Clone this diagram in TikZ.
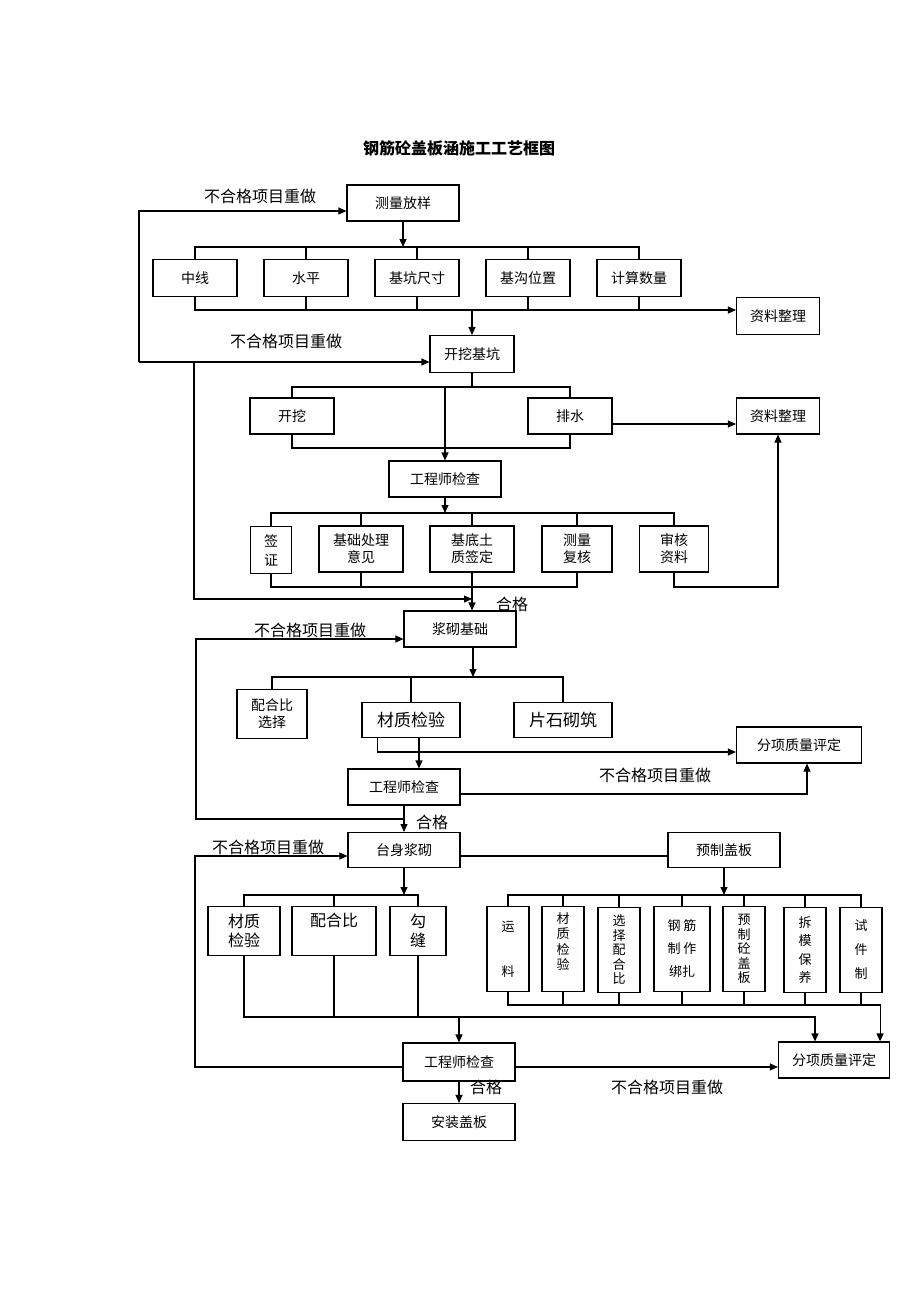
\documentclass[tikz,border=0pt]{standalone}
\usepackage{fontspec}
\setmainfont{Noto Sans CJK SC}
\usetikzlibrary{arrows.meta,positioning}

\begin{document}
\begin{tikzpicture}[
    x=1pt, y=-1pt,
    box/.style={rectangle, draw, line width=1.1pt, minimum width=112pt, minimum height=36pt, inner sep=1pt, align=center, font=\fontsize{14}{17}\selectfont},
    rbox/.style={box, minimum width=84pt, minimum height=37pt},
    tbox/.style={box, minimum height=46pt},
    sbox/.style={box, minimum width=42pt, minimum height=85pt, font=\fontsize{13}{15}\selectfont},
    lbl/.style={font=\fontsize{16}{19}\selectfont},
    conn/.style={line width=1.1pt},
    arrow/.style={conn, -{Triangle[length=8pt,width=7pt]}}
]
    \useasboundingbox (0,0) rectangle (920,1302);

    \node[font=\fontsize{16}{19}\selectfont\bfseries] (title) at (459,148) {钢筋砼盖板涵施工工艺框图};

    % bus lines and loop corners
    \coordinate (b1) at (0,247);
    \coordinate (b2) at (0,310);
    \coordinate (b3) at (0,387);
    \coordinate (b4) at (0,448);
    \coordinate (b5) at (0,513);
    \coordinate (b6) at (0,587);
    \coordinate (b7) at (0,677);
    \coordinate (b8) at (0,895);
    \coordinate (b9) at (0,1017);
    \coordinate (b10) at (0,1005);
    \coordinate (lp1) at (139,362);
    \coordinate (lp2) at (194,599);
    \coordinate (lp3) at (196,819);
    \coordinate (lp4) at (195,0);

    % section 1
    \node[box] (clfy) at (403,203) {测量放样};
    \node[rbox] (zx) at (195,278) {中线};
    \node[rbox] (sp) at (306,278) {水平};
    \node[rbox] (jkcc) at (417,278) {基坑尺寸};
    \node[rbox] (jgwz) at (528,278) {基沟位置};
    \node[rbox] (jssl) at (639,278) {计算数量};
    \node[rbox, minimum width=83pt] (zlzl1) at (778,316) {资料整理};
    \node[rbox] (kwjk) at (472,354) {开挖基坑};
    \node[lbl] (redo1) at (260,196) {不合格项目重做};
    \node[lbl] (redo2) at (286,341) {不合格项目重做};

    \draw[arrow] (clfy.south) -- (clfy.south |- b1);
    \draw[conn] (zx.north) |- (jssl.north |- b1) -- (jssl.north);
    \foreach \n in {sp,jkcc,jgwz}
        \draw[conn] (\n.north) -- (\n.north |- b1);
    \draw[arrow] (zx.south) |- (zlzl1.west |- b2);
    \foreach \n in {sp,jkcc,jgwz,jssl}
        \draw[conn] (\n.south) -- (\n.south |- b2);
    \draw[arrow] (kwjk.north |- b2) -- (kwjk.north);
    \draw[arrow] (lp1) |- ([yshift=-8pt]clfy.west);
    \draw[arrow] (lp1) -- (kwjk.west |- lp1);

    % section 2
    \node[rbox, minimum height=36pt] (kw) at (292,416) {开挖};
    \node[rbox, minimum height=36pt] (ps) at (570,416) {排水};
    \node[rbox, minimum width=83pt, minimum height=36pt] (zlzl2) at (778,416) {资料整理};
    \node[box] (gcs1) at (445,479) {工程师检查};
    \node[tbox, minimum width=41pt, minimum height=47pt] (qz) at (271,550) {签\\[2pt]证};
    \node[tbox, minimum width=84pt] (jccl) at (361,549) {基础处理\\意见};
    \node[tbox, minimum width=84pt] (jdtz) at (472,549) {基底土\\质签定};
    \node[tbox, minimum width=70pt] (clfh) at (577,549) {测量\\复核};
    \node[tbox, minimum width=69pt] (shzl) at (674,549) {审核\\资料};

    \draw[conn] (kwjk.south) -- (kwjk.south |- b3);
    \draw[conn] (kw.north) |- (ps.north |- b3) -- (ps.north);
    \draw[arrow] (gcs1.north |- b3) -- (gcs1.north);
    \draw[conn] (kw.south) |- (ps.south |- b4) -- (ps.south);
    \draw[arrow] ([yshift=-8pt]ps.east) -- ([yshift=-8pt]zlzl2.west);
    \draw[arrow] (gcs1.south) -- (gcs1.south |- b5);
    \draw[conn] (qz.north) |- (shzl.north |- b5) -- (shzl.north);
    \foreach \n in {jccl,jdtz,clfh}
        \draw[conn] (\n.north) -- (\n.north |- b5);
    \draw[conn] (qz.south) |- (clfh.south |- b6) -- (clfh.south);
    \draw[conn] (jccl.south) -- (jccl.south |- b6);
    \draw[arrow] (shzl.south) |- (zlzl2.south |- b6) -- (zlzl2.south);
    \draw[arrow] (lp1 -| lp2) -- (lp2) -- (jdtz.south |- lp2);

    % section 3
    \node[box] (jjjc) at (460,629) {浆砌基础};
    \node[lbl] at (512,604) {合格};
    \node[lbl] (redo3) at (310,630) {不合格项目重做};
    \node[box, minimum width=70pt, minimum height=49pt] (phb1) at (272,714) {配合比\\选择};
    \node[box, minimum width=98pt, minimum height=35pt, font=\fontsize{17}{20}\selectfont] (czjy1) at (411,720) {材质检验};
    \node[box, minimum width=98pt, minimum height=35pt, font=\fontsize{17}{20}\selectfont] (psqz) at (563,720) {片石砌筑};
    \node[box, minimum width=125pt] (fxpd1) at (799,745) {分项质量评定};
    \node[box] (gcs2) at (404,787) {工程师检查};
    \node[lbl] (redo4) at (655,775) {不合格项目重做};
    \node[lbl] at (432,822) {合格};

    \draw[arrow] (jdtz.south) -- (jdtz.south |- jjjc.north);
    \draw[arrow] ([xshift=13pt]jjjc.south) -- ([xshift=13pt]jjjc.south |- b7);
    \draw[conn] (phb1.north) |- (psqz.north |- b7) -- (psqz.north);
    \draw[conn] (czjy1.north) -- (czjy1.north |- b7);
    \draw[arrow] ([xshift=16pt]czjy1.south west) |- ([yshift=-7pt]fxpd1.west);
    \draw[arrow] ([xshift=8pt]czjy1.south) -- ([xshift=8pt]czjy1.south |- gcs2.north);
    \draw[arrow] ([yshift=-7pt]gcs2.east) -| ([xshift=8pt]fxpd1.south);
    \draw[arrow] (gcs2.south) -- (gcs2.south |- 0,832);
    \draw[arrow] (lp3 -| gcs2.south) -- (lp3) |- ([yshift=-10pt]jjjc.west);

    % section 4
    \node[box, minimum height=35pt] (tsjq) at (404,850) {台身浆砌};
    \node[box, minimum height=35pt] (yzgb) at (724,850) {预制盖板};
    \node[lbl] (redo5) at (268,847) {不合格项目重做};
    \node[box, minimum width=72pt, minimum height=49pt, font=\fontsize{16}{19}\selectfont] (czjy2) at (244,931) {材质\\检验};
    \node[box, minimum width=84pt, minimum height=49pt, font=\fontsize{16}{19}\selectfont] (phb2) at (334,931) {配合比\\[4pt]};
    \node[box, minimum width=56pt, minimum height=49pt, font=\fontsize{16}{19}\selectfont] (gf) at (418,931) {勾\\缝};
    \node[sbox] (yl) at (508,949) {运\\[30pt]料};
    \node[sbox, font=\fontsize{13}{15.5}\selectfont] (czjy3) at (563,949) {材\\质\\检\\验\\[0pt]};
    \node[sbox, font=\fontsize{13}{14.5}\selectfont] (xzphb) at (619,950) {选\\择\\配\\合\\比};
    \node[sbox, minimum width=56pt, font=\fontsize{13}{23}\selectfont] (gjzz) at (682,949) {钢 筋\\制 作\\绑扎};
    \node[sbox, font=\fontsize{13}{14.5}\selectfont] (yztgb) at (744,949) {预\\制\\砼\\盖\\板};
    \node[sbox, font=\fontsize{13}{18.5}\selectfont] (cmby) at (805,950) {拆\\模\\保\\养};
    \node[sbox, font=\fontsize{13}{24}\selectfont] (sjz) at (861,950) {试\\件\\制};
    \node[box, minimum width=111pt] (fxpd2) at (834,1060) {分项质量评定};
    \node[box, minimum height=38pt] (gcs3) at (459,1062) {工程师检查};
    \node[box, minimum height=37pt] (azgb) at (459,1122) {安装盖板};
    \node[lbl] at (486,1087) {合格};
    \node[lbl] (redo6) at (667,1087) {不合格项目重做};

    \coordinate (tsin) at ([yshift=-6pt]tsjq.west);
    \coordinate (fxin1) at ([xshift=-19pt]fxpd2.north);
    \coordinate (fxin2) at ([xshift=-10pt]fxpd2.north east);
    \draw[conn] ([yshift=-6pt]tsjq.east) -- ([yshift=-6pt]yzgb.west);
    \draw[arrow] ([yshift=-5pt]gcs3.west) -| (lp4 |- tsin) -- (tsin);
    \draw[arrow] (tsjq.south) -- (tsjq.south |- b8);
    \draw[conn] (czjy2.north) |- (gf.north |- b8) -- (gf.north);
    \draw[conn] (phb2.north) -- (phb2.north |- b8);
    \draw[arrow] (czjy2.south) |- (fxin1 |- b9) -- (fxin1);
    \draw[conn] (phb2.south) -- (phb2.south |- b9);
    \draw[conn] (gf.south) -- (gf.south |- b9);
    \draw[arrow] (gcs3.north |- b9) -- (gcs3.north);
    \draw[arrow] (yzgb.south) -- (yzgb.south |- b8);
    \draw[conn] (yl.north) |- (sjz.north |- b8) -- (sjz.north);
    \foreach \n in {czjy3,xzphb,gjzz,yztgb,cmby}
        \draw[conn] (\n.north) -- (\n.north |- b8);
    \draw[arrow] (yl.south) |- (fxin2 |- b10) -- (fxin2);
    \foreach \n in {czjy3,xzphb,gjzz,yztgb,cmby,sjz}
        \draw[conn] (\n.south) -- (\n.south |- b10);
    \draw[arrow] ([yshift=-5pt]gcs3.east) -- ([yshift=-5pt]gcs3.east -| fxpd2.west);
    \draw[arrow] (gcs3.south) -- (azgb.north);
\end{tikzpicture}
\end{document}
